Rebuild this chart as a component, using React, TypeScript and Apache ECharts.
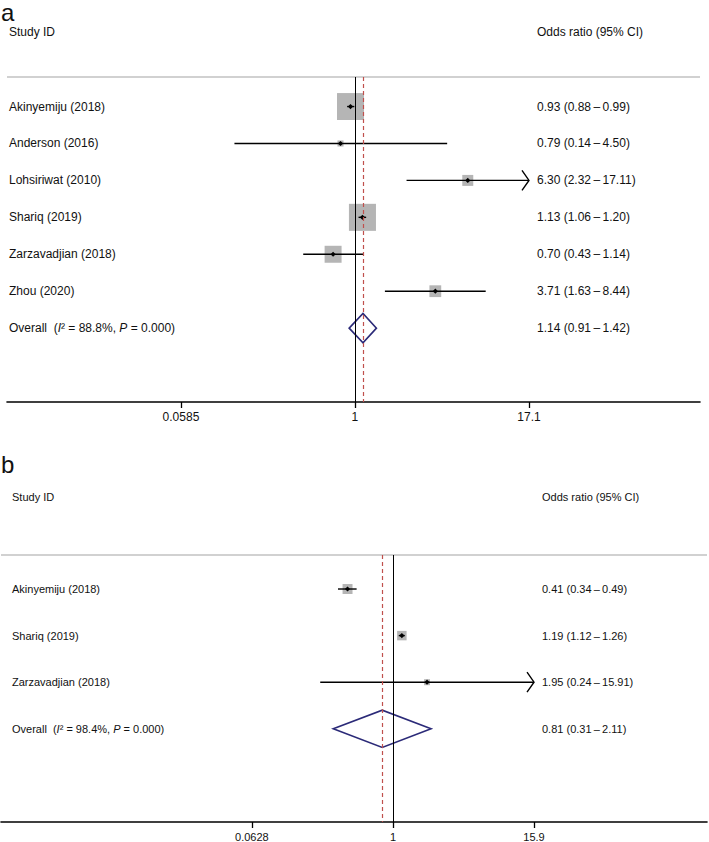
import React, { useEffect, useRef } from 'react';
import * as echarts from 'echarts';

// ---------- Panel a data ----------
const studiesA = ['Akinyemiju (2018)', 'Anderson (2016)', 'Lohsiriwat (2010)', 'Shariq (2019)', 'Zarzavadjian (2018)', 'Zhou (2020)'];
const orA = [0.93, 0.79, 6.30, 1.13, 0.70, 3.71];
const lowA = [0.88, 0.14, 2.32, 1.06, 0.43, 1.63];
const highA = [0.99, 4.50, 17.11, 1.20, 1.14, 8.44];
const weightA = [35.6, 1.8, 5.9, 35.8, 14.1, 6.8];
const overallA = [1.14, 0.91, 1.42];
const i2A = '88.8';
const pA = '0.000';
const ticksA = [0.0585, 1, 17.1];

// ---------- Panel b data ----------
const studiesB = ['Akinyemiju (2018)', 'Shariq (2019)', 'Zarzavadjian (2018)'];
const orB = [0.41, 1.19, 1.95];
const lowB = [0.34, 1.12, 0.24];
const highB = [0.49, 1.26, 15.91];
const weightB = [44.2, 39.8, 15.9];
const overallB = [0.81, 0.31, 2.11];
const i2B = '98.4';
const pB = '0.000';
const ticksB = [0.0628, 1, 15.9];

const FONT = '"Liberation Sans", Arial, Helvetica, sans-serif';
const TXT = '#111';

const f2 = (v: number) => v.toFixed(2);
const ciText = (e: number, l: number, h: number) => `${f2(e)} (${f2(l)}\u2009\u2013\u2009${f2(h)})`;
const tickFmt = (v: number) => String(parseFloat(Number(v).toPrecision(3)));

function textEl(x: number, y: number, text: string, fontSize: number, extra: any = {}) {
  return {
    type: 'text',
    x,
    y,
    style: {
      text,
      fontSize,
      fontFamily: FONT,
      fill: TXT,
      align: 'left',
      textAlign: 'left',
      verticalAlign: 'middle',
      textVerticalAlign: 'middle',
      ...extra,
    },
  };
}

function studySeries(idx: number, studies: string[], est: number[], low: number[], high: number[], weight: number[],
  boxUnit: number, ticks: number[], fontSize: number, labelX: number, ciX: number) {
  const clipLo = Math.min(...ticks);
  const clipHi = Math.max(...ticks);
  const data = studies.map((_, i) => [i, est[i], low[i], high[i], weight[i]]);
  return {
    type: 'custom',
    xAxisIndex: idx,
    yAxisIndex: idx,
    z: 3,
    clip: false,
    silent: true,
    encode: { x: [1, 2, 3], y: 0 },
    data,
    renderItem: (params: any, api: any) => {
      const i = api.value(0);
      const e = api.value(1);
      const l = api.value(2);
      const h = api.value(3);
      const w = api.value(4);
      const pt = api.coord([e, i]);
      const xe = pt[0];
      const y = pt[1];
      const xl = api.coord([Math.max(l, clipLo), i])[0];
      const xh = api.coord([Math.min(h, clipHi), i])[0];
      const side = boxUnit * Math.sqrt(w);
      const d = 2.6;
      const children: any[] = [
        { type: 'rect', shape: { x: xe - side / 2, y: y - side / 2, width: side, height: side }, style: { fill: '#b5b5b5' } },
        { type: 'line', shape: { x1: xl, y1: y, x2: xh, y2: y }, style: { stroke: '#000', lineWidth: 1.4 } },
        { type: 'polygon', shape: { points: [[xe - d, y], [xe, y - d], [xe + d, y], [xe, y + d]] }, style: { fill: '#000' } },
        textEl(labelX, y, studies[params.dataIndex], fontSize),
        textEl(ciX, y, ciText(e, l, h), fontSize),
      ];
      if (h > clipHi) {
        children.push({ type: 'polyline', shape: { points: [[xh - 7, y - 10], [xh, y], [xh - 7, y + 10]] }, style: { stroke: '#000', fill: 'none', lineWidth: 1.4 } });
      }
      if (l < clipLo) {
        children.push({ type: 'polyline', shape: { points: [[xl + 7, y - 10], [xl, y], [xl + 7, y + 10]] }, style: { stroke: '#000', fill: 'none', lineWidth: 1.4 } });
      }
      return { type: 'group', children };
    },
  };
}

function overallSeries(idx: number, row: number, overall: number[], i2: string, p: string, fontSize: number, labelX: number, ciX: number) {
  return {
    type: 'custom',
    xAxisIndex: idx,
    yAxisIndex: idx,
    z: 3,
    clip: false,
    silent: true,
    encode: { x: [1, 2, 3], y: 0 },
    data: [[row, overall[0], overall[1], overall[2]]],
    renderItem: (params: any, api: any) => {
      const r = api.value(0);
      const e = api.value(1);
      const l = api.value(2);
      const h = api.value(3);
      const c = api.coord([e, r]);
      const top = api.coord([e, r - 0.4]);
      const bot = api.coord([e, r + 0.4]);
      const xl = api.coord([l, r])[0];
      const xh = api.coord([h, r])[0];
      const base = { fontSize, fontFamily: FONT, fill: TXT };
      return {
        type: 'group',
        children: [
          {
            type: 'polygon',
            shape: { points: [[xl, c[1]], [c[0], top[1]], [xh, c[1]], [c[0], bot[1]]] },
            style: { fill: 'none', stroke: '#2b2a78', lineWidth: 1.6 },
          },
          {
            type: 'text',
            x: labelX,
            y: c[1],
            style: {
              text: `{n|Overall  (}{i|I}{n|\u00b2 = ${i2}%, }{i|P}{n| = ${p})}`,
              fontSize,
              fontFamily: FONT,
              fill: TXT,
              align: 'left',
              textAlign: 'left',
              verticalAlign: 'middle',
              textVerticalAlign: 'middle',
              rich: {
                n: { ...base },
                i: { ...base, fontStyle: 'italic' },
              },
            },
          },
          textEl(ciX, c[1], ciText(e, l, h), fontSize),
        ],
      };
    },
  };
}

function linesSeries(idx: number, yMin: number, overallEst: number) {
  return {
    type: 'scatter',
    xAxisIndex: idx,
    yAxisIndex: idx,
    data: [],
    z: 1,
    silent: true,
    markLine: {
      symbol: ['none', 'none'],
      silent: true,
      animation: false,
      label: { show: false },
      emphasis: { disabled: true },
      data: [
        { yAxis: yMin, lineStyle: { color: '#c2c2c2', width: 1.5, type: 'solid' } },
        { xAxis: 1, lineStyle: { color: '#000', width: 1, type: 'solid' } },
        { xAxis: overallEst, lineStyle: { color: '#c0504d', width: 1.2, type: [4, 3] } },
      ],
    },
  };
}

function xAxisCfg(idx: number, min: number, max: number, ticks: number[], fontSize: number) {
  return {
    type: 'log',
    logBase: 10,
    gridIndex: idx,
    min,
    max,
    axisLine: { show: true, onZero: false, lineStyle: { color: '#000', width: 1.6 } },
    axisTick: { show: true, customValues: ticks, length: 6, lineStyle: { color: '#000', width: 1.3 } },
    axisLabel: { show: true, customValues: ticks, formatter: (v: number) => tickFmt(v), margin: 9, fontSize, color: TXT, fontFamily: FONT },
    splitLine: { show: false },
    minorTick: { show: false },
  };
}

export default function App() {
  const ref = useRef<HTMLDivElement>(null);
  useEffect(() => {
    if (!ref.current) return;
    const chart = echarts.init(ref.current, undefined, { renderer: 'svg' });
    const yMinA = -0.8;
    const yMinB = -0.73;
    chart.setOption({
      animation: false,
      backgroundColor: '#fff',
      grid: [
        { left: 7, top: 77, width: 693, height: 325 },
        { left: 1, top: 555, width: 706, height: 267 },
      ],
      xAxis: [
        xAxisCfg(0, 0.003425, 278.4, ticksA, 12),
        xAxisCfg(1, 0.000458, 473, ticksB, 11),
      ],
      yAxis: [
        { type: 'value', gridIndex: 0, inverse: true, min: yMinA, max: 8.0, show: false },
        { type: 'value', gridIndex: 1, inverse: true, min: yMinB, max: 5.0, show: false },
      ],
      graphic: [
        { type: 'text', x: 1, y: 12, style: { text: 'a', fontSize: 24, fontFamily: FONT, fill: TXT, verticalAlign: 'middle', textVerticalAlign: 'middle' } },
        { type: 'text', x: 9, y: 32, style: { text: 'Study ID', fontSize: 12, fontFamily: FONT, fill: TXT, verticalAlign: 'middle', textVerticalAlign: 'middle' } },
        { type: 'text', x: 537, y: 32, style: { text: 'Odds ratio (95% CI)', fontSize: 12, fontFamily: FONT, fill: TXT, verticalAlign: 'middle', textVerticalAlign: 'middle' } },
        { type: 'text', x: 1, y: 464, style: { text: 'b', fontSize: 24, fontFamily: FONT, fill: TXT, verticalAlign: 'middle', textVerticalAlign: 'middle' } },
        { type: 'text', x: 12, y: 497, style: { text: 'Study ID', fontSize: 11, fontFamily: FONT, fill: TXT, verticalAlign: 'middle', textVerticalAlign: 'middle' } },
        { type: 'text', x: 542, y: 497, style: { text: 'Odds ratio (95% CI)', fontSize: 11, fontFamily: FONT, fill: TXT, verticalAlign: 'middle', textVerticalAlign: 'middle' } },
      ],
      series: [
        linesSeries(0, yMinA, overallA[0]),
        studySeries(0, studiesA, orA, lowA, highA, weightA, 4.52, ticksA, 12, 9, 537),
        overallSeries(0, studiesA.length, overallA, i2A, pA, 12, 9, 537),
        linesSeries(1, yMinB, overallB[0]),
        studySeries(1, studiesB, orB, lowB, highB, weightB, 1.5, ticksB, 11, 12, 542),
        overallSeries(1, studiesB.length, overallB, i2B, pB, 11, 12, 542),
      ],
    });
    return () => chart.dispose();
  }, []);
  return <div ref={ref} style={{ position: 'absolute', left: 0, top: 0, width: 709, height: 842 }} />;
}
